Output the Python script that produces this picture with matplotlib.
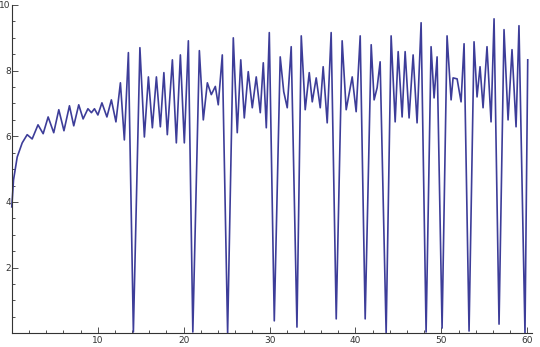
import matplotlib
matplotlib.use("Agg")
import matplotlib.pyplot as plt
from matplotlib.ticker import MultipleLocator, FixedLocator

x = [0.00, 0.20, 0.63, 1.21, 1.79, 2.37, 3.05, 3.65, 4.23, 4.88, 5.47, 6.07, 6.71, 7.21,
     7.79, 8.30, 8.86, 9.27, 9.62, 10.02, 10.49, 11.07, 11.59, 12.12, 12.64, 13.10, 13.57,
     14.15, 14.91, 15.43, 15.90, 16.36, 16.83, 17.29, 17.70, 18.10, 18.69, 19.15, 19.62,
     20.08, 20.55, 21.07, 21.83, 22.29, 22.76, 23.22, 23.69, 24.03, 24.50, 25.12, 25.78,
     26.24, 26.65, 27.06, 27.52, 27.99, 28.45, 28.92, 29.27, 29.62, 29.97, 30.55, 31.24,
     31.65, 32.06, 32.52, 33.19, 33.69, 34.15, 34.62, 34.97, 35.43, 35.90, 36.24, 36.71,
     37.17, 37.76, 38.45, 38.92, 39.62, 40.08, 40.55, 41.13, 41.83, 42.17, 42.52, 42.87,
     43.57, 44.15, 44.62, 44.97, 45.43, 45.78, 46.24, 46.71, 47.17, 47.64, 48.22, 48.80,
     49.15, 49.50, 50.08, 50.66, 51.13, 51.36, 51.83, 52.29, 52.64, 53.22, 53.80, 54.15,
     54.50, 54.85, 55.31, 55.78, 56.13, 56.71, 57.29, 57.76, 58.22, 58.69, 59.03, 59.73,
     60.05]
y = [3.85, 4.67, 5.37, 5.80, 6.05, 5.92, 6.35, 6.08, 6.59, 6.11, 6.81, 6.17, 6.93, 6.32,
     6.96, 6.53, 6.84, 6.72, 6.84, 6.65, 7.02, 6.59, 7.11, 6.44, 7.63, 5.89, 8.55,
     0.04, 8.70, 5.98, 7.81, 6.26, 7.81, 6.29, 7.94, 6.05, 8.33, 5.80, 8.48,
     5.80, 8.91, 0.04, 8.61, 6.50, 7.63, 7.27, 7.52, 6.96, 8.48, 0.01, 9.00,
     6.11, 8.33, 6.56, 7.97, 6.87, 7.81, 6.72, 8.24, 6.26, 9.16, 0.38, 8.42,
     7.36, 6.87, 8.73, 0.19, 9.06, 6.81, 7.94, 7.05, 7.78, 6.87, 8.12, 6.41,
     9.16, 0.44, 8.91, 6.81, 7.81, 6.75, 9.06, 0.44, 8.79, 7.11, 7.48, 8.27,
     0.01, 9.06, 6.44, 8.58, 6.59, 8.58, 6.56, 8.48, 6.41, 9.46, 0.04, 8.73,
     7.17, 8.42, 0.16, 9.06, 7.11, 7.78, 7.75, 7.05, 8.82, 0.07, 8.88, 7.20,
     8.12, 6.87, 8.73, 6.44, 9.58, 0.28, 9.25, 6.50, 8.64, 6.29, 9.37, 0.01,
     8.33]

x_major = [10, 20, 30, 40, 50, 60]
y_major = [2, 4, 6, 8, 10]

fig = plt.figure(figsize=(5.4, 3.47), dpi=100)
ax = fig.add_axes([11.8 / 540, 13.7 / 347, 519.8 / 540, 328.3 / 347])
ax.plot(x, y, color="#3d3d99", linewidth=1.2, solid_joinstyle="round", clip_on=False)
ax.set_xlim(0, 60.5)
ax.set_ylim(0, 10)

for s in ["top", "right"]:
    ax.spines[s].set_visible(False)
for s in ["left", "bottom"]:
    ax.spines[s].set_color("#333333")
    ax.spines[s].set_linewidth(0.8)

ax.xaxis.set_major_locator(FixedLocator(x_major))
ax.yaxis.set_major_locator(FixedLocator(y_major))
ax.xaxis.set_minor_locator(MultipleLocator(2))
ax.yaxis.set_minor_locator(MultipleLocator(0.5))
ax.tick_params(which="both", direction="in", color="#333333", labelsize=6.5,
               labelcolor="#333333", width=0.6)
ax.tick_params(which="major", length=4)
ax.tick_params(axis="x", which="major", pad=2)
ax.tick_params(axis="y", which="major", pad=0.8)
ax.tick_params(which="minor", length=2.5)
ax.set_xticklabels([str(v) for v in x_major])
ax.set_yticklabels([str(v) for v in y_major])

fig.savefig("out.png", dpi=100)
